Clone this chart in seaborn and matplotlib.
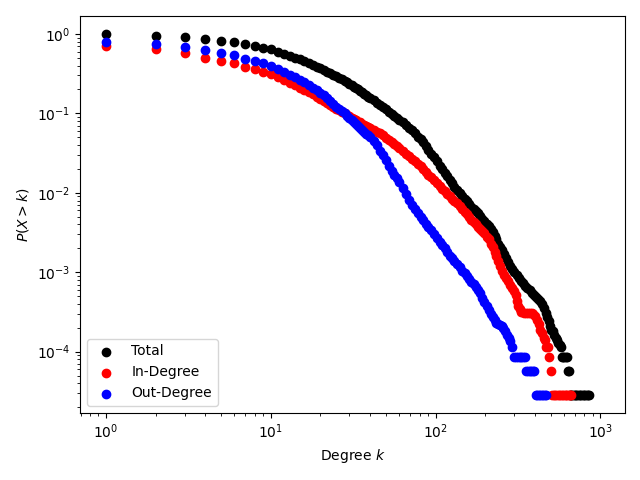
#degree distribution (CCDF) of total, in and out degree on log-log axes
import matplotlib
matplotlib.use('Agg')
import matplotlib.pyplot as plt
import seaborn as sns

## values
# degrees shared by the three series up to k=240
k_grid = [1, 2, 3, 4, 5, 6, 7, 8, 9, 10, 11, 12, 13, 14, 15, 16, 17, 18, 19, 20,
          21, 22, 23, 24, 25, 26, 27, 28, 29, 30, 31, 32, 33, 34, 35, 36, 37, 38, 39, 40,
          42, 44, 46, 48, 50, 52, 54, 56, 58, 60,
          63, 66, 69, 72, 75, 78, 81, 84, 87, 90,
          94, 98, 102, 106, 110, 114, 118, 122, 126, 130,
          135, 140, 145, 150, 155, 160, 165, 170, 175, 180,
          186, 192, 198, 204, 210, 216, 222, 228, 234, 240]

p_total = [1.0, 0.94, 0.91, 0.857, 0.81, 0.786, 0.748, 0.706, 0.67, 0.64, 0.60, 0.565, 0.535, 0.505, 0.478, 0.452, 0.43, 0.408, 0.388, 0.37,
           0.352, 0.336, 0.32, 0.305, 0.292, 0.28, 0.268, 0.256, 0.246, 0.236, 0.226, 0.217, 0.208, 0.2, 0.192, 0.184, 0.177, 0.17, 0.163, 0.157,
           0.146, 0.136, 0.127, 0.119, 0.112, 0.104, 0.098, 0.093, 0.088, 0.083,
           0.077, 0.071, 0.066, 0.061, 0.056, 0.051, 0.047, 0.043, 0.039, 0.035,
           0.031, 0.028, 0.025, 0.022, 0.020, 0.018, 0.0162, 0.0146, 0.0132, 0.012,
           0.0108, 0.0099, 0.0091, 0.0084, 0.0078, 0.0072, 0.0067, 0.0063, 0.0059, 0.0055,
           0.0051, 0.0047, 0.0044, 0.0041, 0.0038, 0.0035, 0.0032, 0.0029, 0.0026, 0.0023]
p_in = [0.71, 0.64, 0.57, 0.50, 0.46, 0.427, 0.387, 0.362, 0.33, 0.31, 0.285, 0.262, 0.243, 0.226, 0.211, 0.198, 0.185, 0.173, 0.162, 0.152,
        0.143, 0.135, 0.128, 0.121, 0.115, 0.109, 0.104, 0.10, 0.096, 0.092, 0.088, 0.085, 0.082, 0.079, 0.077, 0.074, 0.072, 0.070, 0.068, 0.066,
        0.062, 0.059, 0.056, 0.053, 0.049, 0.046, 0.043, 0.041, 0.039, 0.037,
        0.034, 0.031, 0.029, 0.027, 0.025, 0.023, 0.0215, 0.020, 0.0185, 0.017,
        0.0158, 0.0145, 0.0133, 0.0122, 0.0112, 0.0104, 0.0097, 0.0090, 0.0084, 0.0079,
        0.0074, 0.0068, 0.0063, 0.0058, 0.0054, 0.0050, 0.0046, 0.0043, 0.0040, 0.0037,
        0.0035, 0.0033, 0.0031, 0.0028, 0.0026, 0.0023, 0.0021, 0.0018, 0.0016, 0.0014]
p_out = [0.786, 0.74, 0.68, 0.63, 0.57, 0.54, 0.49, 0.457, 0.427, 0.395, 0.36, 0.33, 0.305, 0.285, 0.264, 0.245, 0.228, 0.21, 0.195, 0.18,
         0.168, 0.155, 0.142, 0.13, 0.122, 0.115, 0.108, 0.10, 0.094, 0.088, 0.082, 0.077, 0.073, 0.069, 0.065, 0.061, 0.058, 0.055, 0.053, 0.050,
         0.045, 0.040, 0.034, 0.030, 0.026, 0.022, 0.019, 0.017, 0.0155, 0.0135,
         0.0114, 0.0098, 0.0082, 0.0071, 0.0062, 0.0055, 0.0050, 0.0045, 0.0041, 0.0037,
         0.0034, 0.0030, 0.0027, 0.0024, 0.0022, 0.0020, 0.0018, 0.0016, 0.0015, 0.0014,
         0.00128, 0.00115, 0.00105, 0.00098, 0.0009, 0.00082, 0.00076, 0.00071, 0.00066, 0.0006,
         0.00054, 0.00047, 0.00042, 0.00038, 0.00033, 0.0003, 0.00027, 0.00025, 0.00023, 0.00022]

# tails past k=240, each series on its own degrees
k_total_tail = [247, 254, 261, 268, 275, 283, 291, 300, 310, 320, 330, 340, 350, 360, 372, 384, 396, 408, 420, 432,
                444, 455, 465, 475, 485, 495, 505, 515, 525, 535, 545, 555, 565, 575, 585, 595, 605, 615, 625, 632,
                642, 652, 664, 676, 688, 700, 712, 725, 738, 752, 766, 780, 795, 810, 825, 840, 856]
p_total_tail = [0.0021, 0.0019, 0.0017, 0.0015, 0.00135, 0.0012, 0.0011, 0.001, 0.00092, 0.00085, 0.00078, 0.00073, 0.00068, 0.00063, 0.00059, 0.00055, 0.00052, 0.00049, 0.00046, 0.00044,
                0.0004, 0.00035, 0.00031, 0.00027, 0.00024, 0.00021, 0.00019, 0.00018, 0.00016, 0.00015, 0.00014, 0.00013, 0.00012, 0.000114, 8.57e-5, 8.57e-5, 8.57e-5, 8.57e-5, 8.57e-5, 5.71e-5,
                5.71e-5, 2.86e-5, 2.86e-5, 2.86e-5, 2.86e-5, 2.86e-5, 2.86e-5, 2.86e-5, 2.86e-5, 2.86e-5, 2.86e-5, 2.86e-5, 2.86e-5, 2.86e-5, 2.86e-5, 2.86e-5, 2.86e-5]

k_in_tail = [247, 254, 261, 268, 275, 283, 291, 300, 306, 312, 318, 324, 332, 342, 352, 362, 372, 382, 392, 402,
             412, 422, 432, 442, 452, 462, 470, 480, 490, 500, 510, 522, 534, 546, 558, 570, 582, 594, 606, 618,
             630, 642, 654, 666]
p_in_tail = [0.0012, 0.00105, 0.00093, 0.00084, 0.00077, 0.0007, 0.00064, 0.00058, 0.00051, 0.00044, 0.00038, 0.00034, 0.00032, 0.00031, 0.00031, 0.00031, 0.00031, 0.00031, 0.0003, 0.00028,
             0.00025, 0.00022, 0.00019, 0.00017, 0.00015, 0.00014, 0.000114, 0.000114, 8.57e-5, 5.71e-5, 2.86e-5, 2.86e-5, 2.86e-5, 2.86e-5, 2.86e-5, 2.86e-5, 2.86e-5, 2.86e-5, 2.86e-5, 2.86e-5,
             2.86e-5, 2.86e-5, 2.86e-5, 2.86e-5]

k_out_tail = [246, 252, 258, 264, 270, 277, 284, 292, 300, 308, 316, 324, 332, 340, 348, 356, 364, 372, 380, 388,
              396, 405, 414, 423, 432, 441, 450, 460, 470]
p_out_tail = [0.000214, 0.00021, 0.0002, 0.00018, 0.00016, 0.00015, 0.000138, 0.000114, 8.57e-5, 8.57e-5, 8.57e-5, 8.57e-5, 8.57e-5, 8.57e-5, 8.57e-5, 5.71e-5, 5.71e-5, 5.71e-5, 5.71e-5, 5.71e-5,
              5.71e-5, 2.86e-5, 2.86e-5, 2.86e-5, 2.86e-5, 2.86e-5, 2.86e-5, 2.86e-5, 2.86e-5]

fig, ax = plt.subplots(figsize=(6.4, 4.8), dpi=100)
fig.subplots_adjust(left=0.125, right=0.977, bottom=0.14, top=0.967)

sns.scatterplot(x=k_grid + k_total_tail, y=p_total + p_total_tail, color='black', s=36,
                edgecolor='black', linewidth=1, label='Total', ax=ax)
sns.scatterplot(x=k_grid + k_in_tail, y=p_in + p_in_tail, color='red', s=36,
                edgecolor='red', linewidth=1, label='In-Degree', ax=ax)
sns.scatterplot(x=k_grid + k_out_tail, y=p_out + p_out_tail, color='blue', s=36,
                edgecolor='blue', linewidth=1, label='Out-Degree', ax=ax)

ax.set_xscale('log')
ax.set_yscale('log')
ax.set_xlim(0.695, 1416)
ax.set_ylim(1.7e-5, 1.69)
ax.set_xlabel('Degree $k$')
ax.set_ylabel('$P(X > k)$')
ax.legend(loc='lower left')

plt.savefig('out.png', dpi=100)
